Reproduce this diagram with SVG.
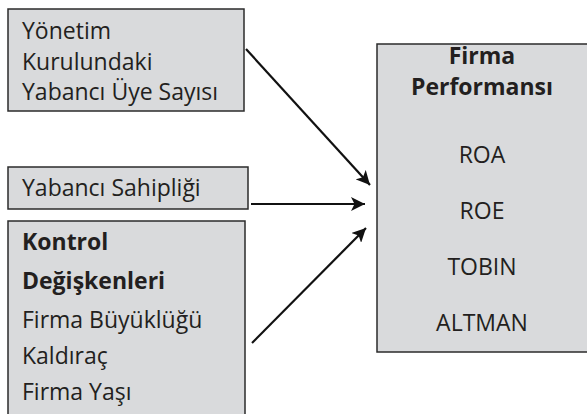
<svg xmlns="http://www.w3.org/2000/svg" width="587" height="414" viewBox="0 0 587 414">
<defs>
<style>
.box{fill:#d9dadc;stroke:#2b2b2b;stroke-width:1.5}
.t{font-family:"Open Sans","Noto Sans","Liberation Sans",sans-serif;font-size:23px;fill:#231f20}
.b{font-weight:bold}
.c{text-anchor:middle}
.edge{stroke:#111;stroke-width:2.2;fill:none}
</style>
<marker id="ah" viewBox="0 0 10 10" refX="10" refY="5" markerWidth="14" markerHeight="14" markerUnits="userSpaceOnUse" orient="auto">
<path d="M0,0 L10,5 L0,10 L2.5,5 Z" fill="#111"/>
</marker>
</defs>
<g id="n1">
<rect class="box" x="8" y="9" width="236" height="102"/>
<text class="t" x="22" y="39">Yönetim</text>
<text class="t" x="22" y="70">Kurulundaki</text>
<text class="t" x="22" y="100">Yabancı Üye Sayısı</text>
</g>
<g id="n2">
<rect class="box" x="8" y="167" width="240" height="42"/>
<text class="t" x="22" y="196">Yabancı Sahipliği</text>
</g>
<g id="n3">
<rect class="box" x="8" y="221" width="237" height="200"/>
<text class="t b" x="22" y="250">Kontrol</text>
<text class="t b" x="22" y="289">Değişkenleri</text>
<text class="t" x="22" y="328">Firma Büyüklüğü</text>
<text class="t" x="22" y="364">Kaldıraç</text>
<text class="t" x="22" y="400">Firma Yaşı</text>
</g>
<g id="n4">
<rect class="box" x="377" y="44" width="212" height="308"/>
<text class="t b c" x="482" y="64">Firma</text>
<text class="t b c" x="482" y="95">Performansı</text>
<text class="t c" x="482" y="163">ROA</text>
<text class="t c" x="482" y="219">ROE</text>
<text class="t c" x="482" y="275">TOBIN</text>
<text class="t c" x="482" y="331">ALTMAN</text>
</g>
<g id="edges">
<line class="edge" x1="246" y1="49" x2="370" y2="185" marker-end="url(#ah)"/>
<line class="edge" x1="251" y1="204" x2="365" y2="204" marker-end="url(#ah)"/>
<line class="edge" x1="252" y1="343" x2="366" y2="228" marker-end="url(#ah)"/>
</g>
</svg>
